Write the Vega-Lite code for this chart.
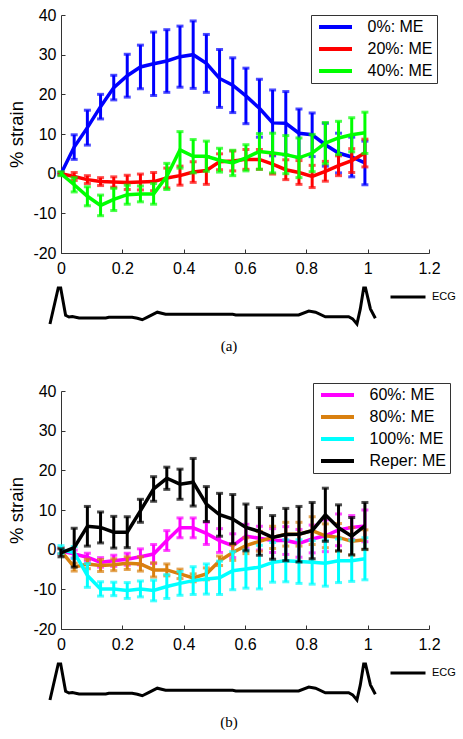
{
  "$schema": "https://vega.github.io/schema/vega-lite/v6.json",
  "background": "white",
  "padding": {"left": 7, "top": 7, "right": 0, "bottom": 0},
  "config": {
    "view": {"stroke": null},
    "font": "Liberation Sans",
    "axis": {"domainColor": "#333", "tickColor": "#333", "labelColor": "#000", "labelFont": "Liberation Sans", "labelFontSize": 16, "titleFont": "Liberation Sans", "titleFontSize": 18.5, "titleFontWeight": "normal", "titleColor": "#000", "grid": false, "tickSize": -4, "domainWidth": 1, "tickWidth": 1, "labelFlush": false, "labelOverlap": false},
    "legend": {"orient": "none", "title": null, "labelColor": "#000", "symbolOpacity": 1}
  },
  "datasets": {
    "a": [
      {"x": 0, "s": "0%: ME", "m": 0, "e": 0.3}, {"x": 0.043, "s": "0%: ME", "m": 6.7, "e": 3.1}, {"x": 0.086, "s": "0%: ME", "m": 11.6, "e": 4.4}, {"x": 0.129, "s": "0%: ME", "m": 16.9, "e": 3.1}, {"x": 0.172, "s": "0%: ME", "m": 21.7, "e": 3.1}, {"x": 0.216, "s": "0%: ME", "m": 24.7, "e": 5.4}, {"x": 0.259, "s": "0%: ME", "m": 26.9, "e": 5.5}, {"x": 0.302, "s": "0%: ME", "m": 27.7, "e": 8}, {"x": 0.345, "s": "0%: ME", "m": 28.4, "e": 7.9}, {"x": 0.388, "s": "0%: ME", "m": 29.5, "e": 7.7}, {"x": 0.431, "s": "0%: ME", "m": 30, "e": 8.5}, {"x": 0.474, "s": "0%: ME", "m": 27.8, "e": 7.3}, {"x": 0.517, "s": "0%: ME", "m": 24, "e": 7.3}, {"x": 0.56, "s": "0%: ME", "m": 22.3, "e": 6.9}, {"x": 0.603, "s": "0%: ME", "m": 19.6, "e": 7}, {"x": 0.647, "s": "0%: ME", "m": 16.5, "e": 7.3}, {"x": 0.69, "s": "0%: ME", "m": 12.8, "e": 8.3}, {"x": 0.733, "s": "0%: ME", "m": 12.7, "e": 8}, {"x": 0.776, "s": "0%: ME", "m": 10.2, "e": 6.1}, {"x": 0.819, "s": "0%: ME", "m": 9.8, "e": 5.5}, {"x": 0.862, "s": "0%: ME", "m": 7.3, "e": 5.4}, {"x": 0.905, "s": "0%: ME", "m": 5.2, "e": 5}, {"x": 0.948, "s": "0%: ME", "m": 4.2, "e": 5}, {"x": 0.991, "s": "0%: ME", "m": 2.7, "e": 5.5},
      {"x": 0, "s": "20%: ME", "m": 0, "e": 0.3}, {"x": 0.043, "s": "20%: ME", "m": -0.7, "e": 1}, {"x": 0.086, "s": "20%: ME", "m": -1.5, "e": 1}, {"x": 0.129, "s": "20%: ME", "m": -2, "e": 1}, {"x": 0.172, "s": "20%: ME", "m": -2.1, "e": 1.3}, {"x": 0.216, "s": "20%: ME", "m": -2.2, "e": 1.8}, {"x": 0.259, "s": "20%: ME", "m": -2.1, "e": 2}, {"x": 0.302, "s": "20%: ME", "m": -2, "e": 2.3}, {"x": 0.345, "s": "20%: ME", "m": -1.1, "e": 2.5}, {"x": 0.388, "s": "20%: ME", "m": -0.5, "e": 2.4}, {"x": 0.431, "s": "20%: ME", "m": 0.4, "e": 2.6}, {"x": 0.474, "s": "20%: ME", "m": 0.8, "e": 3.5}, {"x": 0.517, "s": "20%: ME", "m": 3, "e": 2}, {"x": 0.56, "s": "20%: ME", "m": 3.2, "e": 2.5}, {"x": 0.603, "s": "20%: ME", "m": 3.6, "e": 2.5}, {"x": 0.647, "s": "20%: ME", "m": 3.6, "e": 2.5}, {"x": 0.69, "s": "20%: ME", "m": 2.4, "e": 2.5}, {"x": 0.733, "s": "20%: ME", "m": 1, "e": 2.5}, {"x": 0.776, "s": "20%: ME", "m": 0.3, "e": 3}, {"x": 0.819, "s": "20%: ME", "m": -0.7, "e": 2.8}, {"x": 0.862, "s": "20%: ME", "m": 0.6, "e": 2.5}, {"x": 0.905, "s": "20%: ME", "m": 2, "e": 2.5}, {"x": 0.948, "s": "20%: ME", "m": 3.3, "e": 3}, {"x": 0.991, "s": "20%: ME", "m": 5.2, "e": 3.5},
      {"x": 0, "s": "40%: ME", "m": 0, "e": 0.5}, {"x": 0.043, "s": "40%: ME", "m": -2.8, "e": 1.8}, {"x": 0.086, "s": "40%: ME", "m": -5.7, "e": 2.4}, {"x": 0.129, "s": "40%: ME", "m": -8, "e": 2.6}, {"x": 0.172, "s": "40%: ME", "m": -6.5, "e": 2.8}, {"x": 0.216, "s": "40%: ME", "m": -5.3, "e": 2.4}, {"x": 0.259, "s": "40%: ME", "m": -5.1, "e": 2}, {"x": 0.302, "s": "40%: ME", "m": -5.1, "e": 2.6}, {"x": 0.345, "s": "40%: ME", "m": -0.7, "e": 3.3}, {"x": 0.388, "s": "40%: ME", "m": 6, "e": 4.6}, {"x": 0.431, "s": "40%: ME", "m": 4.4, "e": 4.2}, {"x": 0.474, "s": "40%: ME", "m": 4.4, "e": 3.8}, {"x": 0.517, "s": "40%: ME", "m": 3.4, "e": 3}, {"x": 0.56, "s": "40%: ME", "m": 2.7, "e": 3.2}, {"x": 0.603, "s": "40%: ME", "m": 4, "e": 3.3}, {"x": 0.647, "s": "40%: ME", "m": 5.6, "e": 4.5}, {"x": 0.69, "s": "40%: ME", "m": 5.2, "e": 5}, {"x": 0.733, "s": "40%: ME", "m": 4.8, "e": 4.8}, {"x": 0.776, "s": "40%: ME", "m": 4, "e": 5}, {"x": 0.819, "s": "40%: ME", "m": 5.2, "e": 4.7}, {"x": 0.862, "s": "40%: ME", "m": 7.7, "e": 5.2}, {"x": 0.905, "s": "40%: ME", "m": 9, "e": 4.2}, {"x": 0.948, "s": "40%: ME", "m": 9.8, "e": 4.3}, {"x": 0.991, "s": "40%: ME", "m": 10.3, "e": 5.2}
    ],
    "b": [
      {"x": 0, "s": "60%: ME", "m": -0.3, "e": 0.8}, {"x": 0.043, "s": "60%: ME", "m": -1.1, "e": 1}, {"x": 0.086, "s": "60%: ME", "m": -1.9, "e": 1}, {"x": 0.129, "s": "60%: ME", "m": -3.2, "e": 1.2}, {"x": 0.172, "s": "60%: ME", "m": -2.8, "e": 1.4}, {"x": 0.216, "s": "60%: ME", "m": -2.4, "e": 1.5}, {"x": 0.259, "s": "60%: ME", "m": -1.8, "e": 2}, {"x": 0.302, "s": "60%: ME", "m": -1.1, "e": 2.4}, {"x": 0.345, "s": "60%: ME", "m": 2.3, "e": 2.5}, {"x": 0.388, "s": "60%: ME", "m": 5.5, "e": 2.5}, {"x": 0.431, "s": "60%: ME", "m": 5.5, "e": 2.5}, {"x": 0.474, "s": "60%: ME", "m": 4.1, "e": 2.8}, {"x": 0.517, "s": "60%: ME", "m": 2.3, "e": 3}, {"x": 0.56, "s": "60%: ME", "m": 1, "e": 3}, {"x": 0.603, "s": "60%: ME", "m": 3.4, "e": 3}, {"x": 0.647, "s": "60%: ME", "m": 2.9, "e": 3}, {"x": 0.69, "s": "60%: ME", "m": 2.3, "e": 3}, {"x": 0.733, "s": "60%: ME", "m": 2.3, "e": 3.5}, {"x": 0.776, "s": "60%: ME", "m": 1.6, "e": 3.5}, {"x": 0.819, "s": "60%: ME", "m": 2.7, "e": 3.5}, {"x": 0.862, "s": "60%: ME", "m": 3.5, "e": 4}, {"x": 0.905, "s": "60%: ME", "m": 5, "e": 4}, {"x": 0.948, "s": "60%: ME", "m": 5.6, "e": 3}, {"x": 0.991, "s": "60%: ME", "m": 6, "e": 4},
      {"x": 0, "s": "80%: ME", "m": -0.3, "e": 0.8}, {"x": 0.043, "s": "80%: ME", "m": -4.4, "e": 1}, {"x": 0.086, "s": "80%: ME", "m": -3.6, "e": 1.2}, {"x": 0.129, "s": "80%: ME", "m": -4, "e": 1.5}, {"x": 0.172, "s": "80%: ME", "m": -3.8, "e": 1.5}, {"x": 0.216, "s": "80%: ME", "m": -3.4, "e": 1.6}, {"x": 0.259, "s": "80%: ME", "m": -3.6, "e": 1.8}, {"x": 0.302, "s": "80%: ME", "m": -5.1, "e": 1.8}, {"x": 0.345, "s": "80%: ME", "m": -5.1, "e": 1.5}, {"x": 0.388, "s": "80%: ME", "m": -6.1, "e": 1.2}, {"x": 0.431, "s": "80%: ME", "m": -7.1, "e": 1}, {"x": 0.474, "s": "80%: ME", "m": -6.1, "e": 1.5}, {"x": 0.517, "s": "80%: ME", "m": -2.8, "e": 1.2}, {"x": 0.56, "s": "80%: ME", "m": -0.7, "e": 2}, {"x": 0.603, "s": "80%: ME", "m": 1, "e": 2}, {"x": 0.647, "s": "80%: ME", "m": 2.1, "e": 2.5}, {"x": 0.69, "s": "80%: ME", "m": 3.1, "e": 2.8}, {"x": 0.733, "s": "80%: ME", "m": 3.9, "e": 3}, {"x": 0.776, "s": "80%: ME", "m": 3.9, "e": 3}, {"x": 0.819, "s": "80%: ME", "m": 4.8, "e": 3.5}, {"x": 0.862, "s": "80%: ME", "m": 3.5, "e": 3}, {"x": 0.905, "s": "80%: ME", "m": 3.1, "e": 3.5}, {"x": 0.948, "s": "80%: ME", "m": 2.1, "e": 3.5}, {"x": 0.991, "s": "80%: ME", "m": 2.5, "e": 2.5},
      {"x": 0, "s": "100%: ME", "m": 0, "e": 1}, {"x": 0.043, "s": "100%: ME", "m": -0.7, "e": 1.5}, {"x": 0.086, "s": "100%: ME", "m": -6.5, "e": 3}, {"x": 0.129, "s": "100%: ME", "m": -9.9, "e": 1.8}, {"x": 0.172, "s": "100%: ME", "m": -9.9, "e": 1.7}, {"x": 0.216, "s": "100%: ME", "m": -10.3, "e": 2}, {"x": 0.259, "s": "100%: ME", "m": -9.9, "e": 2}, {"x": 0.302, "s": "100%: ME", "m": -10.3, "e": 2.6}, {"x": 0.345, "s": "100%: ME", "m": -9.3, "e": 3}, {"x": 0.388, "s": "100%: ME", "m": -8.5, "e": 3}, {"x": 0.431, "s": "100%: ME", "m": -7.8, "e": 3.5}, {"x": 0.474, "s": "100%: ME", "m": -7.4, "e": 3.8}, {"x": 0.517, "s": "100%: ME", "m": -7.1, "e": 4.2}, {"x": 0.56, "s": "100%: ME", "m": -5.3, "e": 4.8}, {"x": 0.603, "s": "100%: ME", "m": -4.9, "e": 4.8}, {"x": 0.647, "s": "100%: ME", "m": -4.4, "e": 5.5}, {"x": 0.69, "s": "100%: ME", "m": -3.2, "e": 5}, {"x": 0.733, "s": "100%: ME", "m": -2.8, "e": 5.3}, {"x": 0.776, "s": "100%: ME", "m": -3, "e": 5.5}, {"x": 0.819, "s": "100%: ME", "m": -3.2, "e": 5.5}, {"x": 0.862, "s": "100%: ME", "m": -3.4, "e": 5.8}, {"x": 0.905, "s": "100%: ME", "m": -2.8, "e": 5.5}, {"x": 0.948, "s": "100%: ME", "m": -2.8, "e": 5.2}, {"x": 0.991, "s": "100%: ME", "m": -2.3, "e": 5.3},
      {"x": 0, "s": "Reper: ME", "m": -0.8, "e": 1}, {"x": 0.043, "s": "Reper: ME", "m": 0.5, "e": 4.9}, {"x": 0.086, "s": "Reper: ME", "m": 5.9, "e": 5}, {"x": 0.129, "s": "Reper: ME", "m": 5.6, "e": 3.9}, {"x": 0.172, "s": "Reper: ME", "m": 4.4, "e": 4}, {"x": 0.216, "s": "Reper: ME", "m": 4.4, "e": 3.9}, {"x": 0.259, "s": "Reper: ME", "m": 9.8, "e": 2.9}, {"x": 0.302, "s": "Reper: ME", "m": 15.3, "e": 3.1}, {"x": 0.345, "s": "Reper: ME", "m": 18, "e": 2.8}, {"x": 0.388, "s": "Reper: ME", "m": 16.5, "e": 3.8}, {"x": 0.431, "s": "Reper: ME", "m": 17, "e": 6}, {"x": 0.474, "s": "Reper: ME", "m": 11.5, "e": 4.4}, {"x": 0.517, "s": "Reper: ME", "m": 8.8, "e": 5.4}, {"x": 0.56, "s": "Reper: ME", "m": 7.7, "e": 6.2}, {"x": 0.603, "s": "Reper: ME", "m": 5.6, "e": 5.9}, {"x": 0.647, "s": "Reper: ME", "m": 4.6, "e": 6}, {"x": 0.69, "s": "Reper: ME", "m": 3.1, "e": 5.5}, {"x": 0.733, "s": "Reper: ME", "m": 3.8, "e": 6.6}, {"x": 0.776, "s": "Reper: ME", "m": 3.9, "e": 7}, {"x": 0.819, "s": "Reper: ME", "m": 4.8, "e": 7.1}, {"x": 0.862, "s": "Reper: ME", "m": 8.8, "e": 6.7}, {"x": 0.905, "s": "Reper: ME", "m": 5.5, "e": 5.8}, {"x": 0.948, "s": "Reper: ME", "m": 3.4, "e": 4.7}, {"x": 0.991, "s": "Reper: ME", "m": 6, "e": 5.9}
    ],
    "ecg": [
      {"t": -0.036, "v": -2.1, "s": "ECG"}, {"t": -0.009, "v": 9.8, "s": "ECG"}, {"t": -0.001, "v": 9.8, "s": "ECG"}, {"t": 0.015, "v": 0.8, "s": "ECG"}, {"t": 0.026, "v": 0.2, "s": "ECG"}, {"t": 0.037, "v": 0.4, "s": "ECG"}, {"t": 0.059, "v": -0.1, "s": "ECG"}, {"t": 0.146, "v": -0.1, "s": "ECG"}, {"t": 0.156, "v": 0.1, "s": "ECG"}, {"t": 0.232, "v": 0.1, "s": "ECG"}, {"t": 0.249, "v": -0.2, "s": "ECG"}, {"t": 0.265, "v": -0.7, "s": "ECG"}, {"t": 0.287, "v": 0.4, "s": "ECG"}, {"t": 0.314, "v": 1.8, "s": "ECG"}, {"t": 0.341, "v": 1.1, "s": "ECG"}, {"t": 0.56, "v": 1.1, "s": "ECG"}, {"t": 0.57, "v": 0.9, "s": "ECG"}, {"t": 0.775, "v": 0.9, "s": "ECG"}, {"t": 0.808, "v": 2.2, "s": "ECG"}, {"t": 0.83, "v": 1.8, "s": "ECG"}, {"t": 0.862, "v": 0.3, "s": "ECG"}, {"t": 0.938, "v": 0.3, "s": "ECG"}, {"t": 0.951, "v": -0.4, "s": "ECG"}, {"t": 0.965, "v": -2.1, "s": "ECG"}, {"t": 0.976, "v": 2.9, "s": "ECG"}, {"t": 0.987, "v": 9.8, "s": "ECG"}, {"t": 0.993, "v": 9.8, "s": "ECG"}, {"t": 1.009, "v": 2.9, "s": "ECG"}, {"t": 1.025, "v": -0.2, "s": "ECG"}
    ]
  },
  "spacing": 28,
  "resolve": {"scale": {"color": "independent", "x": "independent", "y": "independent"}, "legend": {"color": "independent"}},
  "vconcat": [
    {
      "bounds": "flush",
      "spacing": 35,
      "resolve": {"scale": {"color": "independent", "x": "independent", "y": "independent"}, "legend": {"color": "independent"}},
      "vconcat": [
        {
          "width": 368, "height": 238,
          "data": {"name": "a"},
          "encoding": {
            "x": {"field": "x", "type": "quantitative", "scale": {"domain": [0, 1.2]}, "axis": {"values": [0, 0.2, 0.4, 0.6, 0.8, 1, 1.2], "title": null, "labelExpr": "'' + datum.value", "labelPadding": 11}},
            "y": {"field": "m", "type": "quantitative", "scale": {"domain": [-20, 40]}, "axis": {"values": [-20, -10, 0, 10, 20, 30, 40], "title": "% strain", "labelExpr": "'' + datum.value", "labelPadding": 9, "titlePadding": 6.5}},
            "color": {"field": "s", "type": "nominal", "scale": {"domain": ["0%: ME", "20%: ME", "40%: ME"], "range": ["#0000ff", "#ff0000", "#00ff00"]}, "legend": {"legendX": 250, "legendY": 0, "symbolType": "M-2.0625,0H2.0625", "symbolSize": 256, "symbolStrokeWidth": 4, "symbolOffset": 10.5, "labelOffset": 22, "labelFontSize": 16, "clipHeight": 16, "strokeColor": "#333", "fillColor": "white", "padding": 4, "rowPadding": 6}}
          },
          "layer": [
            {"transform": [{"filter": "datum.s === '0%: ME'"}], "layer": [
              {"mark": {"type": "errorbar", "ticks": true, "size": 7, "thickness": 3}, "encoding": {"yError": {"field": "e"}}},
              {"mark": {"type": "line", "strokeWidth": 3.5}}
            ]},
            {"transform": [{"filter": "datum.s === '20%: ME'"}], "layer": [
              {"mark": {"type": "errorbar", "ticks": true, "size": 7, "thickness": 3}, "encoding": {"yError": {"field": "e"}}},
              {"mark": {"type": "line", "strokeWidth": 3.5}}
            ]},
            {"transform": [{"filter": "datum.s === '40%: ME'"}], "layer": [
              {"mark": {"type": "errorbar", "ticks": true, "size": 7, "thickness": 3}, "encoding": {"yError": {"field": "e"}}},
              {"mark": {"type": "line", "strokeWidth": 3.5}}
            ]}
          ]
        },
        {
          "width": 368, "height": 36,
          "data": {"name": "ecg"},
          "title": {"text": "(a)", "orient": "bottom", "font": "Liberation Serif", "fontSize": 15, "fontWeight": "normal", "color": "#000", "dx": -16, "offset": 9},
          "mark": {"type": "line", "strokeWidth": 3},
          "encoding": {
            "x": {"field": "t", "type": "quantitative", "scale": {"domain": [0, 1.2]}, "axis": null},
            "y": {"field": "v", "type": "quantitative", "scale": {"domain": [-2.1, 9.8]}, "axis": null},
            "color": {"field": "s", "type": "nominal", "scale": {"range": ["#000000"]}, "legend": {"legendX": 328, "legendY": -10, "symbolType": "stroke", "symbolSize": 1225, "symbolStrokeWidth": 3, "labelFontSize": 11, "labelOffset": 5}}
          }
        }
      ]
    },
    {
      "bounds": "flush",
      "spacing": 35,
      "resolve": {"scale": {"color": "independent", "x": "independent", "y": "independent"}, "legend": {"color": "independent"}},
      "vconcat": [
        {
          "width": 368, "height": 238,
          "data": {"name": "b"},
          "encoding": {
            "x": {"field": "x", "type": "quantitative", "scale": {"domain": [0, 1.2]}, "axis": {"values": [0, 0.2, 0.4, 0.6, 0.8, 1, 1.2], "title": null, "labelExpr": "'' + datum.value", "labelPadding": 11}},
            "y": {"field": "m", "type": "quantitative", "scale": {"domain": [-20, 40]}, "axis": {"values": [-20, -10, 0, 10, 20, 30, 40], "title": "% strain", "labelExpr": "'' + datum.value", "labelPadding": 9, "titlePadding": 6.5}},
            "color": {"field": "s", "type": "nominal", "scale": {"domain": ["60%: ME", "80%: ME", "100%: ME", "Reper: ME"], "range": ["#ff00ff", "#d9800f", "#00ffff", "#000000"]}, "legend": {"legendX": 252, "legendY": -8, "symbolType": "M-2.0625,0H2.0625", "symbolSize": 256, "symbolStrokeWidth": 4, "symbolOffset": 10.5, "labelOffset": 22, "labelFontSize": 16, "clipHeight": 16, "strokeColor": "#333", "fillColor": "white", "padding": 4, "rowPadding": 6}}
          },
          "layer": [
            {"transform": [{"filter": "datum.s === '60%: ME'"}], "layer": [
              {"mark": {"type": "errorbar", "ticks": true, "size": 7, "thickness": 3}, "encoding": {"yError": {"field": "e"}}},
              {"mark": {"type": "line", "strokeWidth": 3.5}}
            ]},
            {"transform": [{"filter": "datum.s === '80%: ME'"}], "layer": [
              {"mark": {"type": "errorbar", "ticks": true, "size": 7, "thickness": 3}, "encoding": {"yError": {"field": "e"}}},
              {"mark": {"type": "line", "strokeWidth": 3.5}}
            ]},
            {"transform": [{"filter": "datum.s === '100%: ME'"}], "layer": [
              {"mark": {"type": "errorbar", "ticks": true, "size": 7, "thickness": 3}, "encoding": {"yError": {"field": "e"}}},
              {"mark": {"type": "line", "strokeWidth": 3.5}}
            ]},
            {"transform": [{"filter": "datum.s === 'Reper: ME'"}], "layer": [
              {"mark": {"type": "errorbar", "ticks": true, "size": 7, "thickness": 3}, "encoding": {"yError": {"field": "e"}}},
              {"mark": {"type": "line", "strokeWidth": 3.5}}
            ]}
          ]
        },
        {
          "width": 368, "height": 36,
          "data": {"name": "ecg"},
          "title": {"text": "(b)", "orient": "bottom", "font": "Liberation Serif", "fontSize": 15, "fontWeight": "normal", "color": "#000", "dx": -16, "offset": 9},
          "mark": {"type": "line", "strokeWidth": 3},
          "encoding": {
            "x": {"field": "t", "type": "quantitative", "scale": {"domain": [0, 1.2]}, "axis": null},
            "y": {"field": "v", "type": "quantitative", "scale": {"domain": [-2.1, 9.8]}, "axis": null},
            "color": {"field": "s", "type": "nominal", "scale": {"range": ["#000000"]}, "legend": {"legendX": 328, "legendY": -10, "symbolType": "stroke", "symbolSize": 1225, "symbolStrokeWidth": 3, "labelFontSize": 11, "labelOffset": 5}}
          }
        }
      ]
    }
  ]
}
